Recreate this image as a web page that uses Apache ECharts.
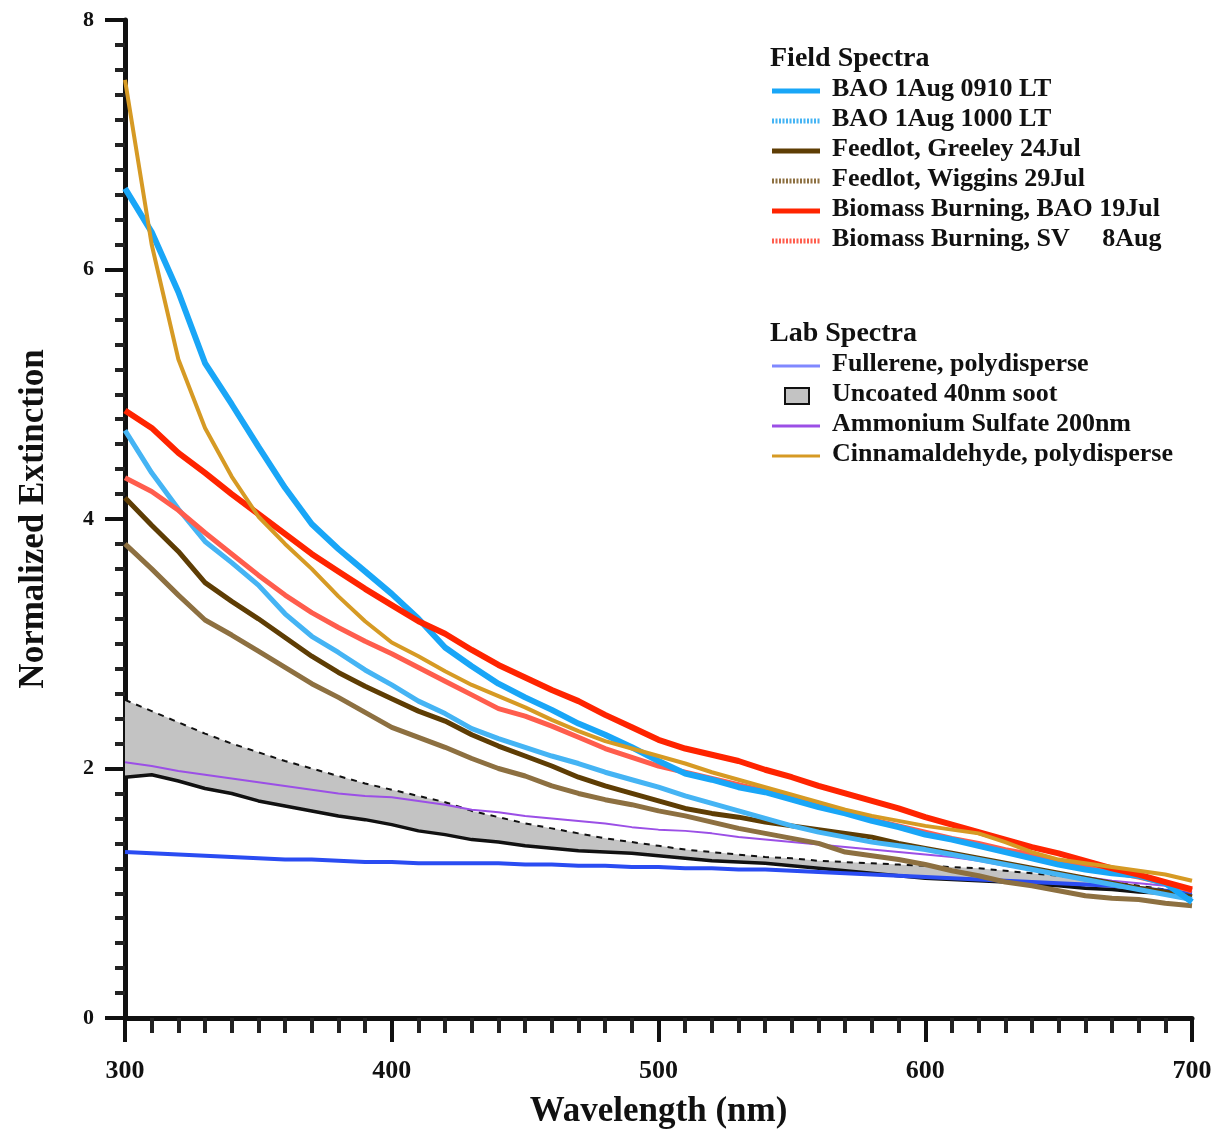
<!DOCTYPE html>
<html>
<head>
<meta charset="utf-8">
<script src="https://cdn.jsdelivr.net/npm/echarts@6/dist/echarts.min.js"></script>
<style>
html, body { margin: 0; padding: 0; background: #fff; }
#chart { width: 1220px; height: 1134px; }
</style>
</head>
<body>
<div id="chart"></div>
<script>
// wavelength grid (nm)
var wavelengths = [300,310,320,330,340,350,360,370,380,390,400,410,420,430,440,450,460,470,480,490,500,
  510,520,530,540,550,560,570,580,590,600,610,620,630,640,650,660,670,680,690,700];

// field spectra
var bao0910 = [6.65,6.30,5.82,5.25,4.92,4.58,4.25,3.96,3.76,3.58,3.40,3.20,2.97,2.82,2.68,2.57,2.47,2.36,2.27,2.17,2.06,
  1.96,1.91,1.85,1.81,1.75,1.69,1.64,1.58,1.53,1.47,1.43,1.38,1.33,1.28,1.23,1.19,1.16,1.14,1.08,0.93];
var bao1000 = [4.71,4.37,4.08,3.82,3.65,3.47,3.24,3.06,2.93,2.79,2.67,2.54,2.44,2.32,2.24,2.17,2.10,2.04,1.97,1.91,1.85,
  1.78,1.72,1.66,1.60,1.54,1.49,1.45,1.41,1.38,1.35,1.31,1.27,1.23,1.19,1.15,1.11,1.07,1.03,0.99,0.95];
var greeley = [4.17,3.95,3.74,3.49,3.34,3.20,3.05,2.90,2.77,2.66,2.56,2.46,2.38,2.27,2.18,2.10,2.02,1.93,1.86,1.80,1.74,
  1.68,1.64,1.61,1.57,1.54,1.51,1.48,1.45,1.40,1.36,1.32,1.28,1.24,1.20,1.16,1.12,1.08,1.04,1.01,0.97];
var wiggins = [3.80,3.60,3.39,3.19,3.07,2.94,2.81,2.68,2.57,2.45,2.33,2.25,2.17,2.08,2.00,1.94,1.86,1.80,1.75,1.71,1.66,
  1.62,1.57,1.52,1.48,1.44,1.40,1.33,1.30,1.27,1.23,1.18,1.14,1.09,1.06,1.02,0.98,0.96,0.95,0.92,0.90];
var biomassBao = [4.87,4.73,4.53,4.37,4.20,4.04,3.88,3.72,3.58,3.44,3.31,3.18,3.08,2.95,2.83,2.73,2.63,2.54,2.43,2.33,2.23,
  2.16,2.11,2.06,1.99,1.93,1.86,1.80,1.74,1.68,1.61,1.55,1.49,1.43,1.37,1.32,1.26,1.20,1.15,1.09,1.03];
var biomassSv = [4.33,4.22,4.07,3.89,3.72,3.55,3.39,3.25,3.13,3.02,2.92,2.81,2.70,2.59,2.48,2.42,2.34,2.25,2.16,2.09,2.02,
  1.97,1.92,1.87,1.82,1.76,1.70,1.65,1.59,1.54,1.49,1.44,1.40,1.35,1.31,1.26,1.22,1.17,1.13,1.08,1.02];

// lab spectra
var fullerene = [1.33,1.32,1.31,1.30,1.29,1.28,1.27,1.27,1.26,1.25,1.25,1.24,1.24,1.24,1.24,1.23,1.23,1.22,1.22,1.21,1.21,
  1.20,1.20,1.19,1.19,1.18,1.17,1.16,1.15,1.14,1.13,1.12,1.11,1.10,1.09,1.08,1.07,1.06,1.04,1.02,1.00];
var sootUpper = [2.55,2.46,2.37,2.28,2.20,2.13,2.06,2.00,1.94,1.88,1.83,1.78,1.73,1.66,1.61,1.56,1.52,1.48,1.44,1.41,1.38,
  1.35,1.33,1.31,1.29,1.28,1.26,1.25,1.24,1.23,1.22,1.21,1.20,1.18,1.16,1.14,1.12,1.09,1.06,1.03,1.00];
var sootLower = [1.93,1.95,1.90,1.84,1.80,1.74,1.70,1.66,1.62,1.59,1.55,1.50,1.47,1.43,1.41,1.38,1.36,1.34,1.33,1.32,1.30,
  1.28,1.26,1.25,1.24,1.22,1.20,1.18,1.16,1.14,1.12,1.11,1.10,1.09,1.07,1.06,1.04,1.03,1.01,1.00,0.98];
var ammSulfate = [2.05,2.02,1.98,1.95,1.92,1.89,1.86,1.83,1.80,1.78,1.77,1.74,1.71,1.67,1.65,1.62,1.60,1.58,1.56,1.53,1.51,
  1.50,1.48,1.45,1.43,1.41,1.39,1.37,1.35,1.33,1.31,1.29,1.26,1.22,1.19,1.16,1.13,1.10,1.08,1.06,1.03];
var cinnamaldehyde = [7.52,6.20,5.28,4.73,4.34,4.02,3.80,3.60,3.38,3.18,3.01,2.90,2.78,2.67,2.58,2.49,2.39,2.30,2.22,2.16,2.10,
  2.04,1.97,1.91,1.85,1.79,1.73,1.67,1.62,1.58,1.54,1.51,1.48,1.41,1.33,1.27,1.24,1.21,1.18,1.15,1.10];

var xTicks = [300, 400, 500, 600, 700];
var yTicks = [0, 2, 4, 6, 8];

var FONT = '"Liberation Serif", "DejaVu Serif", serif';

function pairs(ys) {
  return wavelengths.map(function (w, i) { return [w, ys[i]]; });
}

function line(name, ys, color, width, dash) {
  return {
    name: name, type: 'line', data: pairs(ys), showSymbol: false, symbol: 'none',
    lineStyle: { color: color, width: width, type: dash || 'solid' }, silent: true
  };
}

var series = [
  {
    // grey band between the two soot curves
    name: 'Uncoated 40nm soot', type: 'custom', silent: true, data: [0],
    renderItem: function (params, api) {
      var pts = [];
      wavelengths.forEach(function (w, i) { pts.push(api.coord([w, sootUpper[i]])); });
      for (var i = wavelengths.length - 1; i >= 0; i--) pts.push(api.coord([wavelengths[i], sootLower[i]]));
      return { type: 'polygon', shape: { points: pts }, style: { fill: '#c3c3c3' } };
    }
  },
  line('soot lower', sootLower, '#111', 3.5),
  line('soot upper', sootUpper, '#111', 2, [6, 6]),
  line('Fullerene, polydisperse', fullerene, '#2a4cf2', 4),
  line('Ammonium Sulfate 200nm', ammSulfate, '#9b4fe6', 2),
  line('Feedlot, Wiggins 29Jul', wiggins, '#8d7041', 5),
  line('Feedlot, Greeley 24Jul', greeley, '#5e3d04', 5),
  line('BAO 1Aug 1000 LT', bao1000, '#45b4f4', 5),
  line('Biomass Burning, SV     8Aug', biomassSv, '#ff5d4d', 5),
  line('BAO 1Aug 0910 LT', bao0910, '#19a6f7', 6),
  line('Biomass Burning, BAO 19Jul', biomassBao, '#ff2400', 6),
  line('Cinnamaldehyde, polydisperse', cinnamaldehyde, '#d69a24', 4)
];

// legend drawn as graphic elements (two titled groups)
var fieldItems = [
  ['BAO 1Aug 0910 LT', '#19a6f7', null],
  ['BAO 1Aug 1000 LT', '#45b4f4', [2, 1.5]],
  ['Feedlot, Greeley 24Jul', '#5e3d04', null],
  ['Feedlot, Wiggins 29Jul', '#8d7041', [2, 1.5]],
  ['Biomass Burning, BAO 19Jul', '#ff2400', null],
  ['Biomass Burning, SV     8Aug', '#ff5d4d', [2, 1.5]]
];
var labItems = [
  ['Fullerene, polydisperse', '#8088ff', 'line'],
  ['Uncoated 40nm soot', '#c3c3c3', 'box'],
  ['Ammonium Sulfate 200nm', '#9b4fe6', 'line'],
  ['Cinnamaldehyde, polydisperse', '#d69a24', 'line']
];

var graphic = [];
function label(text, x, y, size) {
  return { type: 'text', left: x, top: y - size * 0.56, silent: true, z: 10,
    style: { text: text, font: 'bold ' + size + 'px ' + FONT, fill: '#111', whiteSpace: 'pre' } };
}
graphic.push(label('Field Spectra', 770, 60, 28));
fieldItems.forEach(function (it, i) {
  var y = 91 + i * 30;
  graphic.push({ type: 'line', silent: true, z: 10, shape: { x1: 772, y1: y, x2: 820, y2: y },
    style: { stroke: it[1], lineWidth: 5, lineDash: it[2] } });
  graphic.push(label(it[0], 832, y, 26));
});
graphic.push(label('Lab Spectra', 770, 335, 28));
labItems.forEach(function (it, i) {
  var y = 366 + i * 30;
  if (it[2] === 'box') {
    graphic.push({ type: 'rect', silent: true, z: 10, shape: { x: 785, y: y - 8, width: 24, height: 16 },
      style: { fill: it[1], stroke: '#111', lineWidth: 2 } });
  } else {
    graphic.push({ type: 'line', silent: true, z: 10, shape: { x1: 772, y1: y, x2: 820, y2: y },
      style: { stroke: it[1], lineWidth: 3 } });
  }
  graphic.push(label(it[0], 832, y, 26));
});

var option = {
  animation: false,
  backgroundColor: '#fff',
  grid: { left: 125, right: 28, top: 20, bottom: 116, containLabel: false },
  xAxis: {
    type: 'value', min: 300, max: 700, interval: 100,
    name: 'Wavelength (nm)', nameLocation: 'middle', nameGap: 76,
    nameTextStyle: { fontFamily: FONT, fontWeight: 'bold', fontSize: 35, color: '#111' },
    axisLine: { show: true, onZero: false, lineStyle: { color: '#111', width: 5 } },
    axisTick: { show: true, length: 24, lineStyle: { color: '#111', width: 4 } },
    minorTick: { show: true, splitNumber: 10, length: 15, lineStyle: { color: '#222', width: 4 } },
    axisLabel: { margin: 40, fontFamily: FONT, fontWeight: 'bold', fontSize: 26, color: '#111',
      formatter: function (v) { return xTicks.indexOf(v) >= 0 ? String(v) : ''; } },
    splitLine: { show: false }
  },
  yAxis: {
    type: 'value', min: 0, max: 8, interval: 2,
    name: 'Normalized Extinction', nameLocation: 'middle', nameGap: 74,
    nameTextStyle: { fontFamily: FONT, fontWeight: 'bold', fontSize: 35, color: '#111' },
    axisLine: { show: true, lineStyle: { color: '#111', width: 5 } },
    axisTick: { show: true, length: 20, lineStyle: { color: '#111', width: 4 } },
    minorTick: { show: true, splitNumber: 10, length: 10, lineStyle: { color: '#222', width: 4 } },
    axisLabel: { margin: 31, fontFamily: FONT, fontWeight: 'bold', fontSize: 22, color: '#111',
      formatter: function (v) { return yTicks.indexOf(v) >= 0 ? String(v) : ''; } },
    splitLine: { show: false }
  },
  graphic: graphic,
  series: series
};

var myChart = echarts.init(document.getElementById('chart'));
myChart.setOption(option);
</script>
</body>
</html>
